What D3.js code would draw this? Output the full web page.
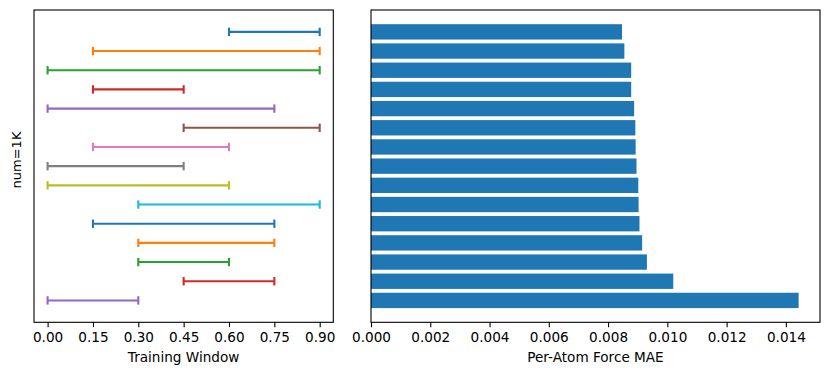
<!DOCTYPE html>
<html>
<head>
<meta charset="utf-8">
<script src="https://cdn.jsdelivr.net/npm/d3@7"></script>
<style>
  body { margin: 0; background: #fff; }
  text { font-family: "DejaVu Sans", sans-serif; fill: #000; }
</style>
</head>
<body>
<div id="chart"></div>
<script>
// Data (listed top row to bottom row)

// Training window start / end for each run
const windowStart = [0.60, 0.15, 0.00, 0.15, 0.00, 0.45, 0.15, 0.00, 0.00, 0.30, 0.15, 0.30, 0.30, 0.45, 0.00];
const windowEnd   = [0.90, 0.90, 0.90, 0.45, 0.75, 0.90, 0.60, 0.45, 0.60, 0.90, 0.75, 0.75, 0.60, 0.75, 0.30];

// Per-atom force MAE for each run
const forceMae = [0.00847, 0.00855, 0.00878, 0.00878, 0.00888, 0.00892, 0.00893, 0.00896,
                  0.00902, 0.00903, 0.00906, 0.00915, 0.00931, 0.01020, 0.01443];

// Tick values
const windowTicks = [0, 0.15, 0.30, 0.45, 0.60, 0.75, 0.90];
const maeTicks = [0, 0.002, 0.004, 0.006, 0.008, 0.010, 0.012, 0.014];

const rowLabel = 'num=1K';


// Chart Setup
const width = 830;
const height = 375;
const svg = d3.select('#chart')
  .append('svg')
  .attr('width', width)
  .attr('height', height);

const n = forceMae.length;
const rows = d3.range(n).map(i => ({
  row: n - 1 - i,
  start: windowStart[i],
  end: windowEnd[i],
  mae: forceMae[i],
  color: d3.schemeCategory10[i % 10]
}));

const plotTop = 10;
const plotBottom = 322.3;
const fontSize = 13.6;

// shared y scale (bars are 0.8 tall, 5% margin)
const y = d3.scaleLinear()
  .domain([-0.4 - 0.74, n - 1 + 0.4 + 0.74])
  .range([plotBottom, plotTop]);

// left panel x scale
const xWin = d3.scaleLinear()
  .domain([-0.045, 0.945])
  .range([34, 333.3]);

// right panel x scale
const maeMax = d3.max(forceMae) * 1.05;
const xMae = d3.scaleLinear()
  .domain([0, maeMax])
  .range([371, 820]);


// Left panel: training windows
const left = svg.append('g');

left.append('g')
  .selectAll('line')
  .data(rows)
  .enter().append('line')
  .attr('x1', d => xWin(d.start))
  .attr('x2', d => xWin(d.end))
  .attr('y1', d => y(d.row))
  .attr('y2', d => y(d.row))
  .attr('stroke', d => d.color)
  .attr('stroke-width', 2.1);

// caps
const caps = left.append('g');
['start', 'end'].forEach(k => {
  caps.selectAll('line.' + k)
    .data(rows)
    .enter().append('line')
    .attr('class', k)
    .attr('x1', d => xWin(d[k]))
    .attr('x2', d => xWin(d[k]))
    .attr('y1', d => y(d.row) - 4.2)
    .attr('y2', d => y(d.row) + 4.2)
    .attr('stroke', d => d.color)
    .attr('stroke-width', 2.1);
});

const leftAxis = left.append('g')
  .attr('transform', `translate(0,${plotBottom})`)
  .call(d3.axisBottom(xWin)
    .tickValues(windowTicks)
    .tickFormat(d3.format('.2f'))
    .tickSize(4.9)
    .tickSizeOuter(0)
    .tickPadding(4.9));

left.append('text')
  .attr('x', (34 + 333.3) / 2)
  .attr('y', 362)
  .attr('text-anchor', 'middle')
  .style('font-size', fontSize + 'px')
  .text('Training Window');

left.append('text')
  .attr('transform', `translate(21,160) rotate(-90)`)
  .attr('text-anchor', 'middle')
  .style('font-size', '13px')
  .text(rowLabel);

left.append('rect')
  .attr('x', 34)
  .attr('y', plotTop)
  .attr('width', 333.3 - 34)
  .attr('height', plotBottom - plotTop)
  .attr('fill', 'none')
  .attr('stroke', '#000')
  .attr('stroke-width', 1.1);


// Right panel: MAE bars
const right = svg.append('g');

right.append('g')
  .selectAll('rect')
  .data(rows)
  .enter().append('rect')
  .attr('x', xMae(0))
  .attr('y', d => y(d.row + 0.4))
  .attr('width', d => xMae(d.mae) - xMae(0))
  .attr('height', d => y(d.row - 0.4) - y(d.row + 0.4))
  .attr('fill', '#1f77b4');

const rightAxis = right.append('g')
  .attr('transform', `translate(0,${plotBottom})`)
  .call(d3.axisBottom(xMae)
    .tickValues(maeTicks)
    .tickFormat(d3.format('.3f'))
    .tickSize(4.9)
    .tickSizeOuter(0)
    .tickPadding(4.9));

right.append('text')
  .attr('x', (371 + 820) / 2)
  .attr('y', 362)
  .attr('text-anchor', 'middle')
  .style('font-size', fontSize + 'px')
  .text('Per-Atom Force MAE');

right.append('rect')
  .attr('x', 371)
  .attr('y', plotTop)
  .attr('width', 820 - 371)
  .attr('height', plotBottom - plotTop)
  .attr('fill', 'none')
  .attr('stroke', '#000')
  .attr('stroke-width', 1.1);


// Axis styling
[leftAxis, rightAxis].forEach(a => {
  a.select('.domain').remove();
  a.selectAll('.tick line').attr('stroke', '#000').attr('stroke-width', 1.1);
  a.selectAll('.tick text')
    .style('font-size', fontSize + 'px')
    .style('font-family', '"DejaVu Sans", sans-serif');
});
</script>
</body>
</html>
